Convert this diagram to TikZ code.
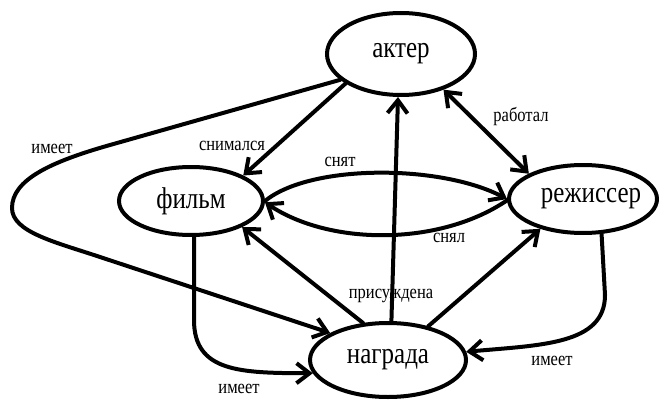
\documentclass[tikz,border=0pt]{standalone}
\usepackage{fontspec}
\usepackage{graphicx}
\setmainfont{Liberation Serif}
\usetikzlibrary{shapes.geometric,arrows.meta}
\begin{document}
\begin{tikzpicture}[x=1pt,y=-1pt,
  ent/.style={draw, ellipse, line width=4pt, inner sep=0pt, font=\fontsize{25}{25}\selectfont},
  tip/.tip={Straight Barb[length=13pt,width=20pt]},
  arr/.style={line width=4pt, line cap=round, line join=round, -tip},
  darr/.style={line width=4pt, line cap=round, line join=round, tip-tip},
  lbl/.style={font=\fontsize{16.5}{16.5}\selectfont, inner sep=0pt}]
\useasboundingbox (0,0) rectangle (660,401);
\node[ent, minimum width=148pt, minimum height=82pt] (A) at (401,54) {\scalebox{1}[1.2]{актер}};
\node[ent, minimum width=144pt, minimum height=68pt] (F) at (191,201) {\scalebox{1}[1.2]{фильм}};
\node[ent, minimum width=148pt, minimum height=68pt] (D) at (583,199) {\makebox[0pt][c]{\hspace*{16pt}\scalebox{1}[1.2]{режиссер}}};
\node[ent, minimum width=156pt, minimum height=74pt] (N) at (388,360) {\scalebox{1}[1.2]{награда}};

% actor -> film
\draw[arr] (A.208) -- (F.26);
% actor -> award (long loop)
\draw[arr] (A.203) -- (110,145) .. controls (50,162) and (12,180) .. (12,208)
  .. controls (12,232) and (55,242) .. (100,257) -- (N.155);
% actor <-> director
\draw[darr] (A.320) -- (D.155);
% award -> actor
\draw[arr] (N.85) -- (A.266);
% film -> director (upper)
\draw[arr] (F.0) .. controls (310,164) and (440,164) .. (D.180);
% director -> film (lower)
\draw[arr] (D.181) .. controls (440,246) and (330,246) .. (F.-1);
% award -> film
\draw[arr] (N.124) -- (F.333);
% award -> director
\draw[arr] (N.40) -- (D.215);
% film -> award
\draw[arr] (F.275) -- (194,320) .. controls (194,372) and (240,373) .. (N.190);
% director -> award
\draw[arr] (D.298) -- (605,295) .. controls (605,345) and (540,345) .. (N.6);

\node[lbl] (l1) at (52,149) {\scalebox{1}[1.2]{имеет}};
\node[lbl] (l2) at (232,146) {\scalebox{1}[1.2]{снимался}};
\node[lbl] (l3) at (340,162) {\scalebox{1}[1.2]{снят}};
\node[lbl] (l4) at (521,117) {\scalebox{1}[1.2]{работал}};
\node[lbl] (l5) at (449,238) {\scalebox{1}[1.2]{снял}};
\node[lbl] (l6) at (391,296) {\scalebox{1}[1.2]{присуждена}};
\node[lbl] (l7) at (239,389) {\scalebox{1}[1.2]{имеет}};
\node[lbl] (l8) at (552,361) {\scalebox{1}[1.2]{имеет}};
\end{tikzpicture}
\end{document}
